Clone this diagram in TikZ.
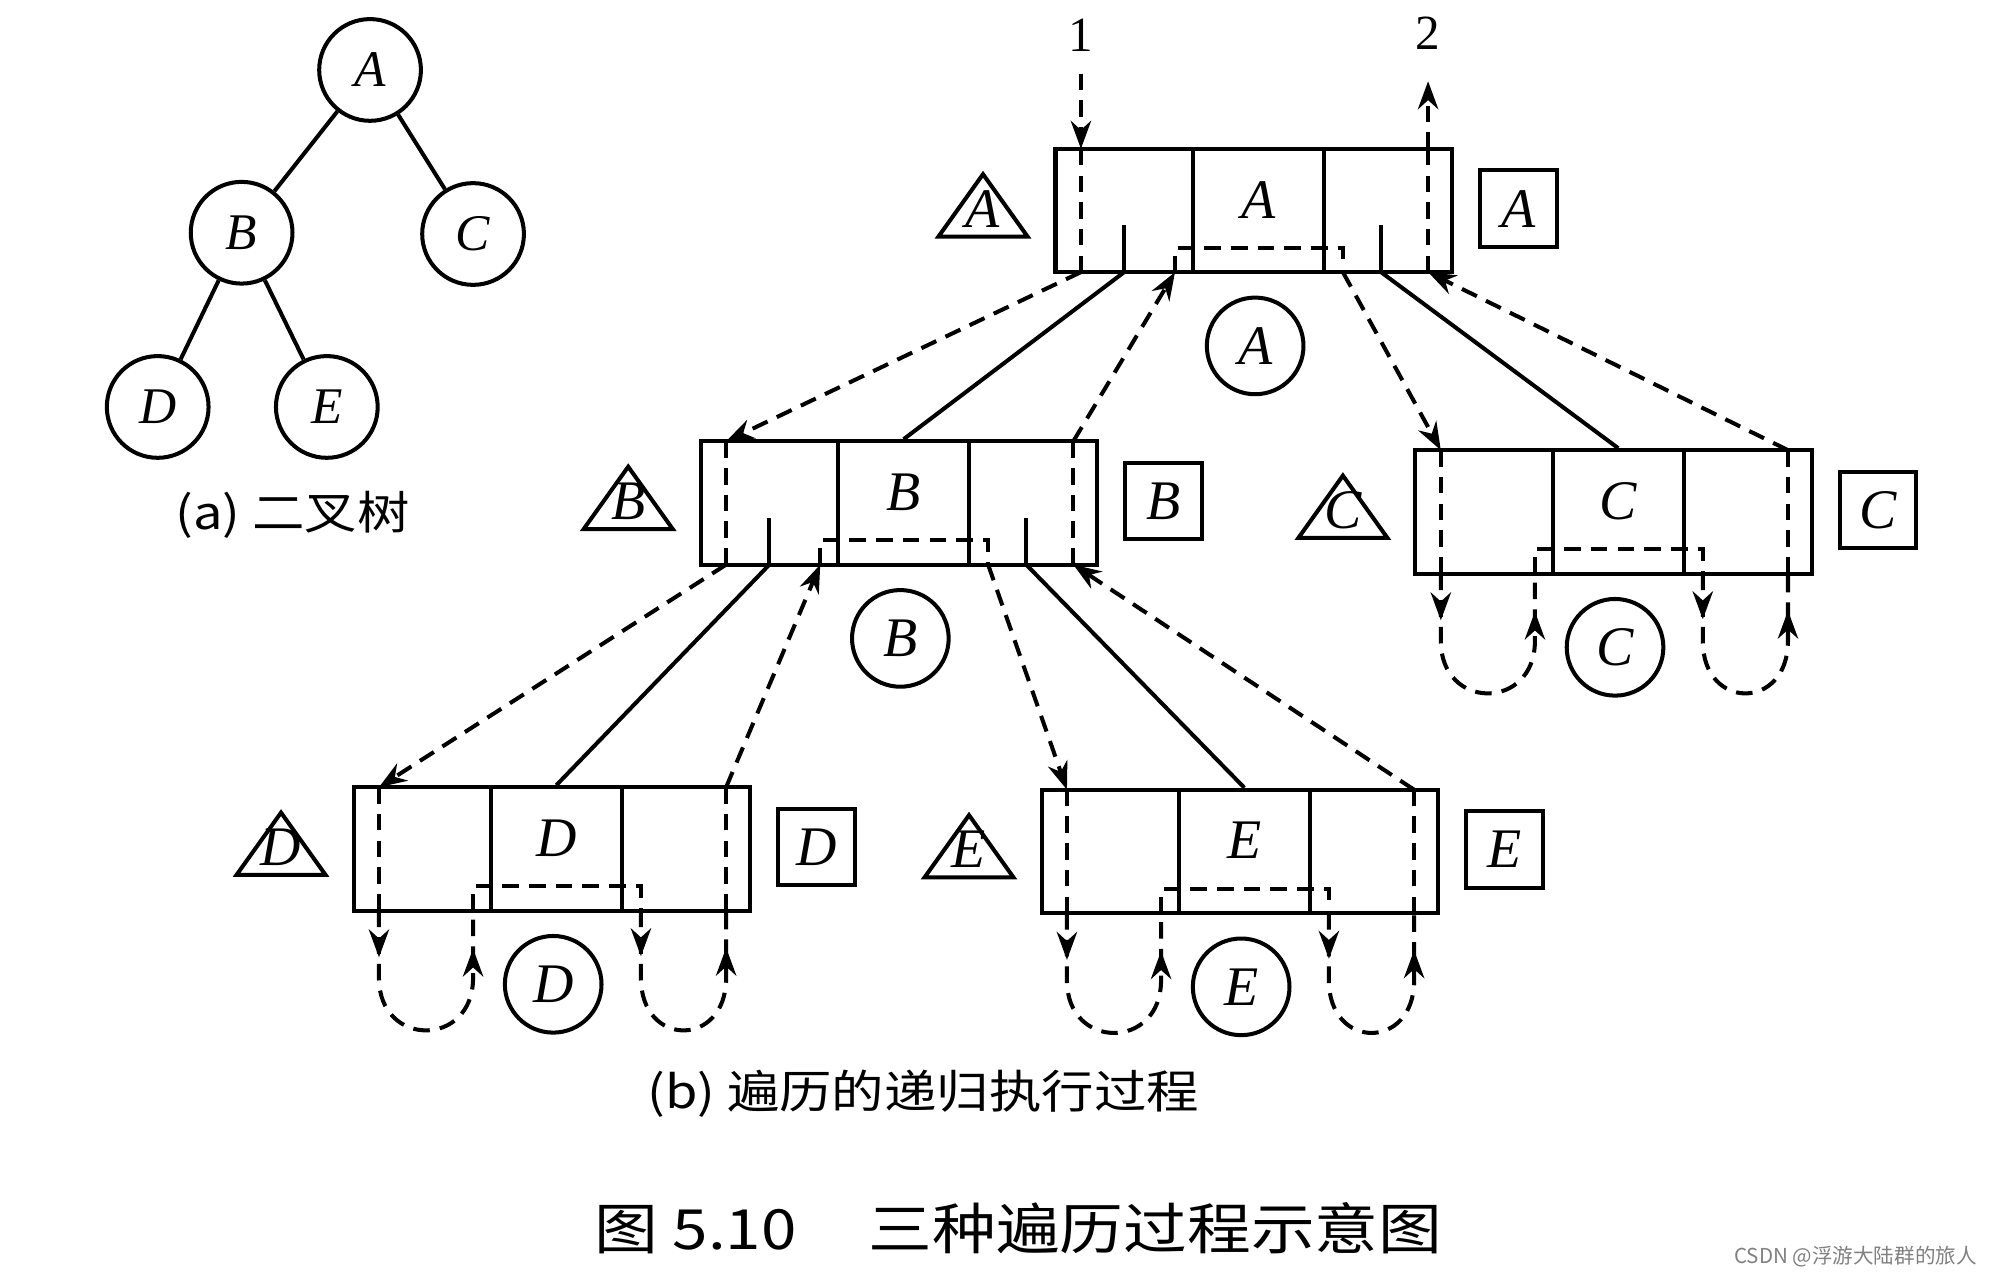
\documentclass[tikz,border=0pt]{standalone}
\usepackage{fontspec}
\setmainfont{Liberation Serif}
\newfontfamily\cjk[FakeStretch=1.15]{Noto Sans CJK SC}
\newfontfamily\cjkplain{Noto Sans CJK SC}
\usetikzlibrary{arrows.meta,calc,decorations.markings}

\begin{document}
\begin{tikzpicture}[x=0.1mm,y=-0.1mm,line width=0.9pt,
  >={Stealth[length=2.2mm,width=1.6mm]},
  cell/.style={draw,minimum height=9.7mm,inner sep=0pt},
  keytxt/.style={inner sep=0pt,font=\fontsize{12.5}{14}\selectfont\itshape},
  sq/.style={draw,minimum size=6mm,inner sep=0pt,font=\fontsize{12.5}{14}\selectfont\itshape},
  circ/.style={draw,circle,minimum size=7.6mm,inner sep=0pt,font=\fontsize{12.5}{14}\selectfont\itshape},
  tnode/.style={draw,circle,minimum size=8mm,inner sep=0pt,font=\fontsize{11.5}{13}\selectfont\itshape},
  num/.style={inner sep=1pt,font=\fontsize{11}{12}\selectfont},
  captxt/.style={font=\cjk\fontsize{10.2}{12}\selectfont},
  trav/.style={dash pattern=on 1.3mm off 0.8mm},
  loopmark/.style={postaction={decorate},decoration={markings,
    mark=at position 0.16 with {\arrow{>}},
    mark=at position 0.87 with {\arrow{>}}}}]
\useasboundingbox (0,0) rectangle (1568,1003);

%binary tree
\node[tnode] (ta) at (291,55) {A};
\node[tnode] (tb) at (190,183) {B};
\node[tnode] (tc) at (372,184) {C};
\node[tnode] (td) at (124,320) {D};
\node[tnode] (te) at (257,320) {E};
\draw (ta) -- (tb);
\draw (ta) -- (tc);
\draw (tb) -- (td);
\draw (tb) -- (te);
\node[captxt] (capa) at (230,405) {(a) 二叉树};

%traversal boxes
\foreach \n/\x/\y in {A/830/117,B/551/347,C/1113/354,D/278/619,E/819/621}{
  \node[cell,minimum width=10.8mm] (\n-l) at (\x+54,\y+48.5) {};
  \node[cell,minimum width=10.3mm] (\n-d) at (\x+159.5,\y+48.5) {};
  \node[cell,minimum width=10.1mm] (\n-r) at (\x+261.5,\y+48.5) {};
  \node[keytxt] (\n-key) at (\x+159.5,\y+40) {\n};
  \draw (\x-92,\y+69) -- (\x-57,\y+20) -- (\x-22,\y+69) -- cycle;
  \node[keytxt] (\n-pre) at (\x-57,\y+47) {\n};
  \node[sq] (\n-post) at (\x+364,\y+47) {\n};
  \node[circ] (\n-mid) at (\x+157,\y+155) {\n};
  \coordinate (\n-i) at (\x+20,\y);
  \coordinate (\n-ib) at (\x+20,\y+97);
  \coordinate (\n-lb) at (\x+94,\y+97);
  \coordinate (\n-rb) at (\x+226,\y+97);
  \coordinate (\n-ob) at (\x+293,\y+97);
  \coordinate (\n-o) at (\x+293,\y);
  \draw[trav] (\n-i) -- (\n-ib);
  \draw[trav] (\n-lb) -- ++(0,-19) -| (\n-rb);
  \draw[trav] (\n-ob) -- (\n-o);
}

%inner nodes: child pointers
\foreach \n/\x/\y in {A/830/117,B/551/347}{
  \coordinate (\n-ls) at (\x+54,\y+97);
  \coordinate (\n-rs) at (\x+256,\y+97);
  \draw (\n-ls) -- ++(0,-37);
  \draw (\n-rs) -- ++(0,-37);
}
\draw (A-ls) -- (B-d.north);
\draw (A-rs) -- (C-d.north);
\draw (B-ls) -- (D-d.north);
\draw (B-rs) -- (E-d.north);

%leaves: empty subtrees
\foreach \n in {C,D,E}{
  \draw[trav,loopmark] (\n-ib) -- ++(0,53) .. controls +(0,55) and +(0,55) .. ($(\n-lb)+(0,53)$) -- (\n-lb);
  \draw[trav,loopmark] (\n-rb) -- ++(0,53) .. controls +(0,55) and +(0,55) .. ($(\n-ob)+(0,53)$) -- (\n-ob);
}

%calls and returns
\node[num] (one) at (850,28) {1};
\node[num] (two) at (1123,26) {2};
\draw[trav,->,shorten <=1.2mm] (one) -- (A-i);
\draw[trav,->,shorten >=2mm] (A-o) -- (two);
\draw[trav,->] (A-ib) -- (B-i);
\draw[trav,->] (B-o) -- (A-lb);
\draw[trav,->] (A-rb) -- (C-i);
\draw[trav,->] (C-o) -- (A-ob);
\draw[trav,->] (B-ib) -- (D-i);
\draw[trav,->] (D-o) -- (B-lb);
\draw[trav,->] (B-rb) -- (E-i);
\draw[trav,->] (E-o) -- (B-ob);

%captions
\node[captxt] (capb) at (726,860) {(b) 遍历的递归执行过程};
\node[font=\cjk\fontsize{12.4}{14}\selectfont] (fig) at (801,966) {图 5.10\hspace{1.3em}三种遍历过程示意图};
\node[font=\cjkplain\fontsize{4.6}{5}\selectfont,text=gray,anchor=east,inner sep=0pt] (wm) at (1556,988) {CSDN @浮游大陆群的旅人};
\end{tikzpicture}
\end{document}
